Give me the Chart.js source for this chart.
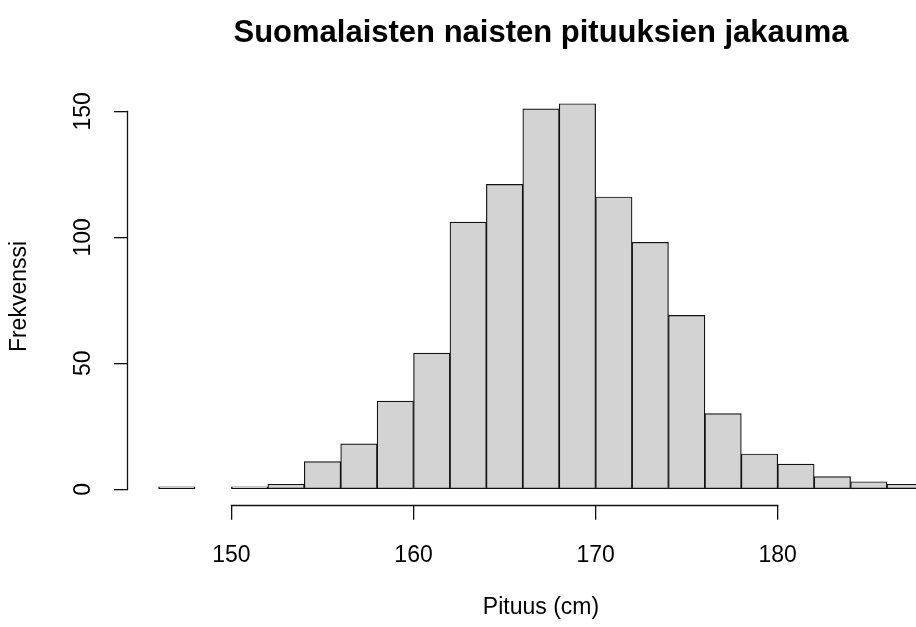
<!DOCTYPE html>
<html>
<head>
<meta charset="utf-8">
<title>Suomalaisten naisten pituuksien jakauma</title>
<script src="https://cdn.jsdelivr.net/npm/chart.js@4/dist/chart.umd.min.js"></script>
<style>
  html, body { margin: 0; padding: 0; background: #fff; overflow: hidden; }
  canvas { display: block; }
</style>
</head>
<body>
<canvas id="hist" width="1000" height="627"></canvas>
<script>
// histogram bins (2 cm wide), left edges and counts
var binStarts = [146, 148, 150, 152, 154, 156, 158, 160, 162, 164, 166, 168, 170, 172, 174, 176, 178, 180, 182, 184, 186];
var counts = [1, 0, 1, 2, 11, 18, 35, 54, 106, 121, 151, 153, 116, 98, 69, 30, 14, 10, 5, 3, 2];
var binWidth = 2;
var xTicks = [150, 160, 170, 180];
var yTicks = [0, 50, 100, 150];

var chartTitle = 'Suomalaisten naisten pituuksien jakauma';
var xTitle = 'Pituus (cm)';
var yTitle = 'Frekvenssi';

var fontFamily = '"Liberation Sans", Arial, Helvetica, sans-serif';

var points = binStarts.map(function (start, i) {
  return { x: start + binWidth / 2, y: counts[i] };
});

// R style axes: the line only spans the tick range, y labels are rotated
var rAxes = {
  id: 'rAxes',
  afterDraw: function (chart) {
    var c = chart.ctx;
    var area = chart.chartArea;
    var xs = chart.scales.x;
    var ys = chart.scales.y;
    c.save();
    c.strokeStyle = '#111';
    c.lineWidth = 1.3;
    c.beginPath();
    var by = Math.round(area.bottom) + 0.5;
    c.moveTo(xs.getPixelForValue(xTicks[0]) - 0.6, by);
    c.lineTo(xs.getPixelForValue(xTicks[xTicks.length - 1]) + 0.6, by);
    var lx = Math.round(area.left) - 0.5;
    c.moveTo(lx, ys.getPixelForValue(yTicks[0]) + 0.6);
    c.lineTo(lx, ys.getPixelForValue(yTicks[yTicks.length - 1]) - 0.6);
    c.stroke();

    c.fillStyle = '#000';
    c.font = '23px ' + fontFamily;
    c.textAlign = 'center';
    c.textBaseline = 'alphabetic';
    yTicks.forEach(function (v) {
      c.save();
      c.translate(area.left - 38, ys.getPixelForValue(v));
      c.rotate(-Math.PI / 2);
      c.fillText(String(v), 0, 0);
      c.restore();
    });
    c.restore();
  }
};

var ctx = document.getElementById('hist').getContext('2d');

var chart = new Chart(ctx, {
  type: 'bar',
  data: {
    datasets: [{
      label: yTitle,
      data: points,
      backgroundColor: '#d3d3d3',
      borderColor: '#111',
      borderWidth: 1.2,
      borderSkipped: false,
      barPercentage: 1,
      categoryPercentage: 1,
      grouped: false
    }]
  },
  options: {
    responsive: false,
    animation: false,
    layout: { padding: { left: 0, right: 46, top: 0, bottom: 0 } },
    plugins: {
      legend: { display: false },
      tooltip: { enabled: false },
      title: {
        display: true,
        text: chartTitle,
        fullSize: false,
        color: '#000',
        font: { family: fontFamily, size: 31, weight: 'bold' },
        padding: { top: 14.6, bottom: 36.5 }
      }
    },
    scales: {
      x: {
        type: 'linear',
        min: 144.32,
        max: 189.68,
        offset: false,
        afterBuildTicks: function (axis) {
          axis.ticks = xTicks.map(function (v) { return { value: v }; });
        },
        afterFit: function (axis) { axis.height = 122.3; },
        border: { display: false },
        grid: { offset: false, drawOnChartArea: false, drawTicks: true, tickLength: 15, color: '#111', lineWidth: 1.3 },
        ticks: {
          color: '#000',
          padding: 22,
          maxRotation: 0,
          autoSkip: false,
          font: { family: fontFamily, size: 23 }
        },
        title: {
          display: true,
          text: xTitle,
          color: '#000',
          font: { family: fontFamily, size: 23 },
          padding: { top: 0, bottom: 6 }
        }
      },
      y: {
        type: 'linear',
        min: -6.12,
        max: 159.12,
        afterBuildTicks: function (axis) {
          axis.ticks = yTicks.map(function (v) { return { value: v }; });
        },
        afterFit: function (axis) { axis.width = 128; },
        border: { display: false },
        grid: { drawOnChartArea: false, drawTicks: true, tickLength: 14, color: '#111', lineWidth: 1.3 },
        ticks: { display: false },
        title: {
          display: true,
          text: yTitle,
          color: '#000',
          font: { family: fontFamily, size: 23 },
          padding: { top: 6, bottom: 0 }
        }
      }
    }
  },
  plugins: [rAxes]
});
</script>
</body>
</html>
